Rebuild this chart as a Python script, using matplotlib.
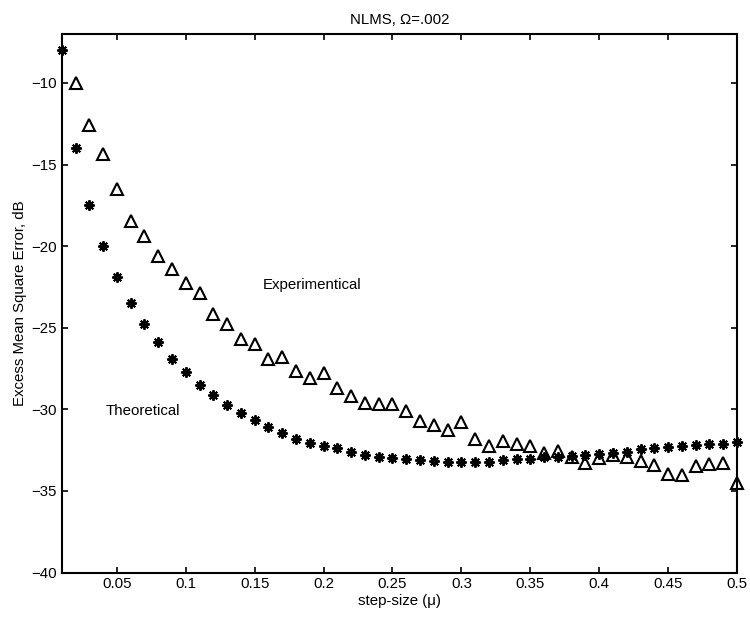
import numpy as np
import matplotlib
matplotlib.use("Agg")
import matplotlib.pyplot as plt

plt.rcParams['font.family'] = ['Liberation Sans', 'DejaVu Sans']

# step sizes
mu_theo = np.round(np.arange(1, 51) * 0.01, 2)
mu_exp = np.round(np.arange(2, 51) * 0.01, 2)

# theoretical EMSE, dB (mu = 0.01 .. 0.50)
emse_theo = [-8.0, -14.0, -17.5, -20.0, -21.9, -23.5, -24.8, -25.9, -26.9, -27.7,
             -28.5, -29.1, -29.75, -30.25, -30.65, -31.1, -31.45, -31.8, -32.05, -32.25,
             -32.4, -32.6, -32.8, -32.9, -32.97, -33.03, -33.1, -33.15, -33.2, -33.2,
             -33.2, -33.2, -33.1, -33.07, -33.03, -32.95, -32.9, -32.87, -32.8, -32.75,
             -32.7, -32.6, -32.46, -32.4, -32.3, -32.26, -32.2, -32.15, -32.1, -32.0]

# experimental EMSE, dB (mu = 0.02 .. 0.50)
emse_exp = [-10.0, -12.6, -14.35, -16.5, -18.43, -19.4, -20.6, -21.42, -22.25, -22.88,
            -24.17, -24.75, -25.67, -26.02, -26.9, -26.8, -27.65, -28.1, -27.77, -28.67,
            -29.2, -29.6, -29.7, -29.65, -30.1, -30.71, -30.93, -31.28, -30.77, -31.83,
            -32.24, -31.93, -32.14, -32.22, -32.7, -32.55, -32.95, -33.3, -33.0, -32.8,
            -32.9, -33.18, -33.4, -33.95, -34.05, -33.45, -33.38, -33.3, -34.5]

xticks = [0.05, 0.1, 0.15, 0.2, 0.25, 0.3, 0.35, 0.4, 0.45, 0.5]
xticklabels = ['0.05', '0.1', '0.15', '0.2', '0.25', '0.3', '0.35', '0.4', '0.45', '0.5']
yticks = [-40, -35, -30, -25, -20, -15, -10]

fs = 10.8

fig = plt.figure(figsize=(7.5, 6.18), dpi=100)
ax = fig.add_axes([0.0823, 0.0736, 0.9004, 0.8714])

# asterisk-like marker for the theory curve
ax.plot(mu_theo, emse_theo, linestyle='none', marker=(8, 2, 0), markersize=7.5,
        markeredgewidth=1.4, color='black', clip_on=False)
ax.plot(mu_exp, emse_exp, linestyle='none', marker='^', markersize=8.5,
        markerfacecolor='none', markeredgecolor='black', markeredgewidth=1.5,
        clip_on=False)

ax.text(0.156, -22.6, 'Experimentical', fontsize=fs)
ax.text(0.042, -30.35, 'Theoretical', fontsize=fs)

ax.set_xlim(0.01, 0.5)
ax.set_ylim(-40, -7)
ax.set_xticks(xticks)
ax.set_xticklabels(xticklabels)
ax.set_yticks(yticks)
ax.tick_params(direction='in', top=True, right=True, length=4, width=1.2,
               labelsize=fs)
for s in ax.spines.values():
    s.set_linewidth(1.5)

ax.set_title('NLMS, \u03a9=.002', fontsize=fs, pad=7)
ax.set_xlabel('step-size (\u03bc)', fontsize=fs, labelpad=2)
ax.set_ylabel('Excess Mean Square Error, dB', fontsize=fs, labelpad=3)

fig.savefig('out.png', dpi=100)
